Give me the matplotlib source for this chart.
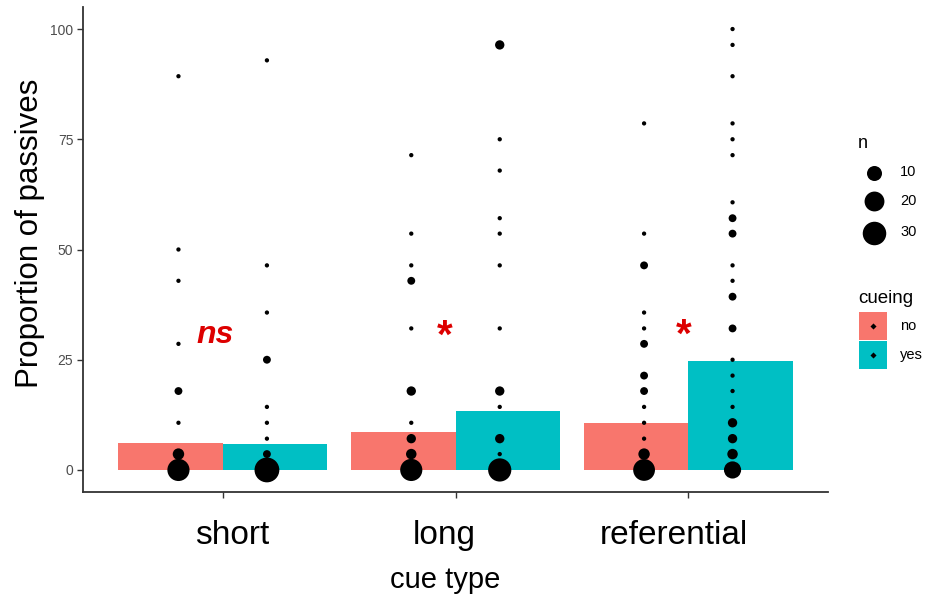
import matplotlib
matplotlib.use("Agg")
import matplotlib.pyplot as plt
from matplotlib.patches import Rectangle
import numpy as np

plt.rcParams['font.family'] = ['Liberation Sans', 'DejaVu Sans']

# ---------------- data ----------------
categories = ["short", "long", "referential"]
cueing_levels = ["no", "yes"]
bar_no = [6.2, 8.5, 10.6]
bar_yes = [5.9, 13.3, 24.7]

short_no_y = [89.3, 50.0, 42.9, 28.6, 17.9, 10.7, 3.6, 0.0]
short_no_n = [1, 1, 1, 1, 2, 1, 5, 26]
short_yes_y = [92.9, 46.4, 35.7, 25.0, 14.3, 10.7, 7.1, 3.6, 0.0]
short_yes_n = [1, 1, 1, 2, 1, 1, 1, 2, 34]
long_no_y = [71.4, 53.6, 46.4, 42.9, 32.1, 17.9, 10.7, 7.1, 3.6, 0.0]
long_no_n = [1, 1, 1, 2, 1, 3, 1, 3, 4, 26]
long_yes_y = [96.4, 75.0, 67.9, 57.1, 53.6, 46.4, 32.1, 17.9, 14.3, 7.1, 3.6, 0.0]
long_yes_n = [3, 1, 1, 1, 1, 1, 1, 3, 1, 3, 1, 29]
ref_no_y = [78.6, 53.6, 46.4, 35.7, 32.1, 28.6, 21.4, 17.9, 14.3, 10.7, 7.1, 3.6, 0.0]
ref_no_n = [1, 1, 2, 1, 1, 2, 2, 2, 1, 1, 1, 5, 25]
ref_yes_y = [100.0, 96.4, 89.3, 78.6, 75.0, 71.4, 60.7, 57.1, 53.6, 46.4, 42.9, 39.3,
             32.1, 25.0, 21.4, 17.9, 14.3, 10.7, 7.1, 3.6, 0.0]
ref_yes_n = [1, 1, 1, 1, 1, 1, 1, 2, 2, 1, 1, 2, 2, 1, 1, 1, 1, 3, 3, 4, 14]

sig_labels = ["ns", "*", "*"]
legend_n = [10, 20, 30]
y_ticks = [0, 25, 50, 75, 100]

# ---------------- styling ----------------
c_no = "#F8766D"
c_yes = "#00BFC4"
red = "#DD0000"
DPI = 100


def dot_area(n):
    d_px = 4.3 + 3.57 * np.sqrt(np.asarray(n, dtype=float) - 1)
    return (d_px * 72.0 / DPI) ** 2


fig = plt.figure(figsize=(9.35, 6.02), dpi=DPI)
ax = fig.add_axes([83 / 935, 1 - 492 / 602, (828 - 83) / 935, (492 - 7) / 602])

x = np.arange(1, len(categories) + 1)
bw = 0.45
ax.bar(x - bw / 2, bar_no, width=bw, color=c_no, linewidth=0, zorder=1)
ax.bar(x + bw / 2, bar_yes, width=bw, color=c_yes, linewidth=0, zorder=1)

pd = 0.19
groups = [
    (1, -pd, short_no_y, short_no_n), (1, pd, short_yes_y, short_yes_n),
    (2, -pd, long_no_y, long_no_n), (2, pd, long_yes_y, long_yes_n),
    (3, -pd, ref_no_y, ref_no_n), (3, pd, ref_yes_y, ref_yes_n),
]
for cx, off, ys, ns in groups:
    ax.scatter(np.full(len(ys), cx + off), ys, s=dot_area(ns), color="black",
               linewidths=0, zorder=3)

# significance annotations
ax.text(1 - 0.034, 28.9, sig_labels[0], color=red, fontsize=23, fontweight="bold",
        fontstyle="italic", ha="center", va="baseline", zorder=4)
ax.text(2 - 0.047, 27.6, sig_labels[1], color=red, fontsize=29, fontweight="bold",
        ha="center", va="baseline", zorder=4)
ax.text(3 - 0.021, 28.0, sig_labels[2], color=red, fontsize=29, fontweight="bold",
        ha="center", va="baseline", zorder=4)

ax.set_xlim(0.4, 3.6)
ax.set_ylim(-5, 105)
ax.set_yticks(y_ticks)
ax.set_yticklabels([str(t) for t in y_ticks])
ax.tick_params(axis="y", labelsize=10, labelcolor="#4D4D4D", color="#333333",
               length=4, width=1, pad=3)
ax.set_xticks(x)
ax.set_xticklabels([""] * len(categories))
ax.tick_params(axis="x", color="#333333", length=4, width=1)
label_offsets = [0.04, -0.047, -0.06]
for xi, lab, off in zip(x, categories, label_offsets):
    ax.text(xi + off, -0.058, lab, transform=ax.get_xaxis_transform(),
            ha="center", va="top", fontsize=24, color="black")
ax.text(0.5 + (-10 / 745), -0.153, "cue type", transform=ax.transAxes,
        ha="center", va="top", fontsize=21, color="black")
ax.set_ylabel("Proportion of passives", fontsize=22.5)
ax.yaxis.set_label_coords(-0.051, 0.533)
for s in ["top", "right"]:
    ax.spines[s].set_visible(False)
for s in ["left", "bottom"]:
    ax.spines[s].set_color("#333333")
    ax.spines[s].set_linewidth(1.3)

# ---------------- legend (pixel coordinates) ----------------
lax = fig.add_axes([0, 0, 1, 1], facecolor="none")
lax.set_xlim(0, 935)
lax.set_ylim(602, 0)
lax.axis("off")

lax.text(858, 148, "n", fontsize=13, ha="left", va="baseline")
for yy, nv in zip([172.5, 201, 232.5], legend_n):
    lax.scatter([874], [yy], s=dot_area(nv), color="black", linewidths=0)
    lax.text(900, yy, str(nv), fontsize=10.5, ha="left", va="center")

lax.text(858, 303, "cueing", fontsize=13.5, ha="left", va="baseline")
for yy, col, lab in zip([312, 341], [c_no, c_yes], cueing_levels):
    lax.add_patch(Rectangle((859, yy), 28, 28, facecolor=col, edgecolor="none"))
    lax.scatter([873], [yy + 14], s=dot_area(1), marker="D", color="black",
                linewidths=0)
    lax.text(900, yy + 14, lab, fontsize=10.5, ha="left", va="center")

fig.savefig("out.png", dpi=DPI)
